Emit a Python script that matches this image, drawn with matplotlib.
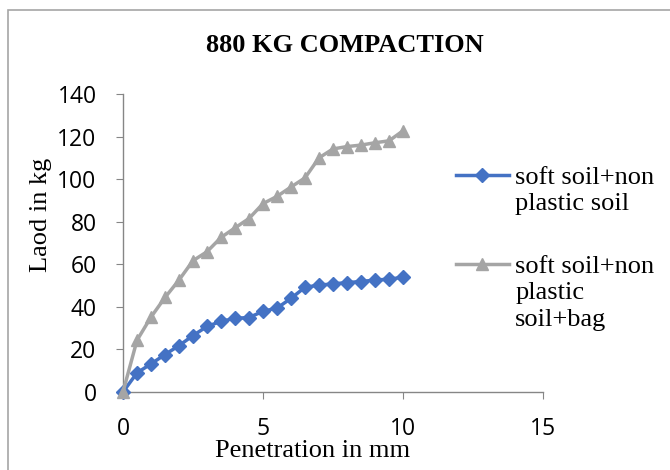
import matplotlib
matplotlib.use("Agg")
import matplotlib.pyplot as plt
from matplotlib.patches import Rectangle

penetration = [0, 0.5, 1, 1.5, 2, 2.5, 3, 3.5, 4, 4.5, 5, 5.5, 6, 6.5, 7, 7.5, 8, 8.5, 9, 9.5, 10]
soft_nonplastic = [0, 9, 13.2, 17.6, 21.8, 26.5, 30.8, 33.2, 34.6, 35, 37.9, 39.4, 44, 49.2, 50.2, 50.8, 51.4, 51.9, 52.6, 53, 53.9]
soft_nonplastic_bag = [0, 24.3, 35.2, 44.4, 52.6, 61.7, 65.9, 72.6, 77.1, 81.5, 88.5, 91.9, 96.3, 100.6, 110, 114.2, 115.3, 116, 117.1, 118, 122.7]
labels = ["soft soil+non\nplastic soil", "soft soil+non\nplastic\nsoil+bag"]
x_ticks = [0, 5, 10, 15]
y_ticks = [0, 20, 40, 60, 80, 100, 120, 140]

W, H = 670, 470
fig = plt.figure(figsize=(6.7, 4.7), dpi=100)
fig.patches.append(Rectangle((8/W, -0.1), 2, 1.1 - 10/H, transform=fig.transFigure,
                             fill=False, edgecolor="#a6a6a6", linewidth=1.2))
ax = fig.add_axes([123/W, 1 - 392/H, 420/W, 298/H])

first_lines = [l.split("\n")[0] for l in labels]
rest_lines = ["\n".join(l.split("\n")[1:]) for l in labels]

ax.plot(penetration, soft_nonplastic, color="#4472c4", marker="D", markersize=7, linewidth=2.5,
        label=first_lines[0], clip_on=False, zorder=3)
ax.plot(penetration, soft_nonplastic_bag, color="#a5a5a5", marker="^", markersize=9, linewidth=2.5,
        label=first_lines[1], clip_on=False, zorder=3)

ax.set_xlim(0, 15)
ax.set_ylim(0, 140)
ax.set_xticks(x_ticks)
ax.set_yticks(y_ticks)
for s in ["top", "right"]:
    ax.spines[s].set_visible(False)
for s in ["left", "bottom"]:
    ax.spines[s].set_color("#868686")
    ax.spines[s].set_linewidth(1)
ax.tick_params(axis="both", direction="out", length=5, color="#868686", labelsize=16.5)
for lab in ax.get_xticklabels() + ax.get_yticklabels():
    lab.set_fontfamily("Open Sans")
ax.tick_params(axis="x", pad=13)
ax.tick_params(axis="y", pad=14)

ax.set_xlabel("Penetration in mm", fontfamily="Liberation Serif", fontsize=19)
ax.xaxis.set_label_coords((313 - 123) / 420, (392 - 440) / 298)
ax.set_ylabel("Laod in kg", fontfamily="Liberation Serif", fontsize=19)
ax.yaxis.set_label_coords((52 - 123) / 420, (392 - 215) / 298)
fig.text(345/W, 1 - 45/H, "880 KG COMPACTION", fontfamily="Liberation Serif", fontsize=19,
         fontweight="bold", ha="center", va="center")

leg = ax.legend(loc="upper left", bbox_to_anchor=(456/W, 1 - 166/H), bbox_transform=fig.transFigure,
                frameon=False, prop={"family": "Liberation Serif", "size": 19}, handlelength=2.0,
                handletextpad=0.25, labelspacing=2.46, borderaxespad=0, borderpad=0)

fig.canvas.draw()
for t, rest in zip(leg.get_texts(), rest_lines):
    bb = t.get_window_extent()
    fig.text(bb.x0 / W, (bb.y0 - 4) / H, rest, fontfamily="Liberation Serif", fontsize=19,
             ha="left", va="top", linespacing=1.3)

fig.savefig("out.png", dpi=100)
